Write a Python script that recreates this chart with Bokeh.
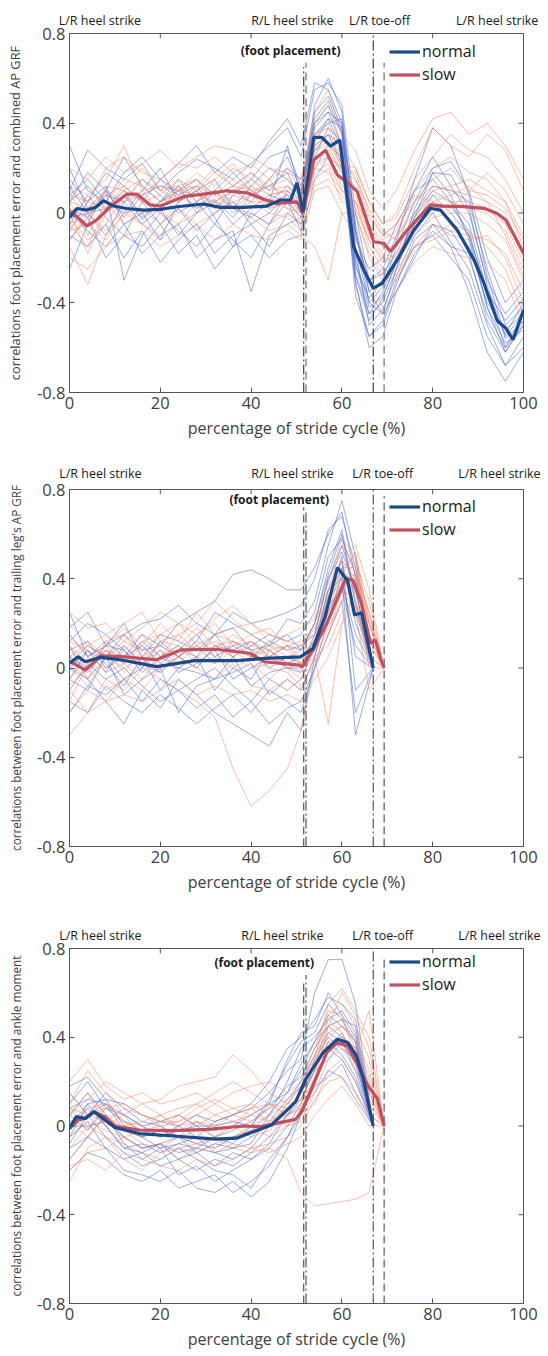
import json
from bokeh.plotting import figure
from bokeh.models import (Range1d, FixedTicker, LinearAxis, Label, Legend, LegendItem,
                          CustomJSTickFormatter)
from bokeh.layouts import column
from bokeh.embed import file_html
from bokeh.resources import INLINE

FONT = "Open Sans"

# ---------------- data ----------------
X_TICKS = [0, 20, 40, 60, 80, 100]
Y_TICKS = [-0.8, -0.4, 0, 0.4, 0.8]
EVENTS = [51.6, 52.1, 66.9, 69.3]
ANN_TEXT = ["L/R heel strike", "R/L heel strike", "L/R toe-off", "L/R heel strike"]
SERIES = ["normal", "slow"]

# panel 1: combined AP GRF  (individual traces)
X1 = [0, 4, 8, 12, 16, 20, 24, 28, 32, 36, 40, 44, 48, 51, 54, 57, 60, 63, 66, 69, 72, 76, 80, 84, 88, 92, 96, 100]
B1 = [
    [0.05, 0.12, 0.02, 0.08, -0.03, 0.05, 0.10, 0.02, 0.06, -0.02, 0.08, 0.12, 0.18, 0.05, 0.45, 0.52, 0.38, -0.22, -0.45, -0.35, -0.20, -0.05, 0.05, -0.05, -0.15, -0.40, -0.52, -0.45],
    [-0.25, -0.05, 0.10, -0.30, -0.10, 0.00, -0.08, -0.15, -0.05, -0.12, -0.20, -0.05, 0.10, 0.02, 0.35, 0.40, 0.42, -0.08, -0.35, -0.45, -0.35, -0.20, -0.05, -0.08, -0.20, -0.45, -0.60, -0.50],
    [0.10, 0.28, 0.20, 0.15, 0.22, 0.10, 0.18, 0.24, 0.20, 0.15, 0.22, 0.30, 0.38, 0.25, 0.55, 0.58, 0.48, 0.00, -0.30, -0.25, -0.10, 0.10, 0.25, 0.12, 0.00, -0.30, -0.45, -0.35],
    [0.00, -0.08, -0.15, -0.05, -0.18, -0.10, -0.05, -0.20, -0.12, -0.08, -0.35, -0.10, -0.05, -0.02, 0.20, 0.30, 0.25, -0.32, -0.55, -0.48, -0.30, -0.15, -0.10, -0.20, -0.30, -0.55, -0.68, -0.55],
    [0.15, 0.05, 0.18, 0.12, 0.05, 0.15, 0.08, 0.12, 0.02, 0.10, 0.05, 0.15, 0.25, 0.10, 0.40, 0.48, 0.35, -0.12, -0.25, -0.20, -0.05, 0.10, 0.15, 0.05, -0.05, -0.35, -0.48, -0.38],
    [-0.05, 0.08, -0.02, -0.10, 0.05, -0.05, 0.02, -0.08, 0.00, 0.05, -0.05, 0.00, 0.08, 0.00, 0.30, 0.35, 0.30, -0.27, -0.45, -0.40, -0.25, -0.05, 0.08, 0.00, -0.10, -0.42, -0.58, -0.52],
    [0.20, 0.02, 0.10, 0.25, 0.12, 0.05, 0.15, 0.05, 0.10, 0.18, 0.10, 0.05, 0.30, 0.08, 0.48, 0.60, 0.45, -0.07, -0.40, -0.33, -0.15, 0.05, 0.20, 0.23, 0.10, -0.20, -0.40, -0.30],
    [-0.10, -0.15, -0.05, -0.20, -0.08, -0.22, -0.12, -0.05, -0.18, -0.10, -0.05, -0.15, 0.00, -0.05, 0.25, 0.38, 0.32, -0.17, -0.50, -0.43, -0.28, -0.10, 0.00, -0.13, -0.25, -0.50, -0.68, -0.60],
    [0.08, 0.15, 0.05, 0.00, 0.10, 0.20, 0.05, 0.10, 0.15, 0.02, 0.12, 0.20, 0.15, 0.08, 0.38, 0.45, 0.40, -0.10, -0.30, -0.27, -0.18, 0.00, 0.12, 0.10, 0.05, -0.25, -0.50, -0.42],
    [0.02, -0.02, 0.08, 0.05, -0.05, 0.02, -0.10, 0.00, 0.05, -0.05, 0.02, 0.08, 0.05, -0.02, 0.32, 0.42, 0.28, -0.37, -0.55, -0.50, -0.32, -0.12, -0.05, -0.15, -0.18, -0.48, -0.62, -0.48],
    [0.12, 0.00, -0.10, 0.05, 0.15, 0.08, 0.00, 0.05, -0.05, 0.08, 0.15, 0.25, 0.28, 0.12, 0.42, 0.50, 0.36, -0.20, -0.42, -0.37, -0.22, -0.02, 0.18, 0.17, 0.02, -0.32, -0.56, -0.48],
    [-0.08, 0.05, 0.12, -0.05, 0.00, -0.12, 0.05, 0.10, -0.02, -0.15, 0.00, -0.05, 0.05, -0.08, 0.28, 0.35, 0.22, -0.24, -0.38, -0.30, -0.20, -0.08, 0.02, 0.03, -0.08, -0.38, -0.54, -0.40],
    [0.30, 0.10, 0.05, 0.18, 0.25, 0.15, 0.22, 0.30, 0.18, 0.25, 0.20, 0.32, 0.42, 0.30, 0.58, 0.55, 0.40, -0.05, -0.35, -0.30, -0.12, 0.15, 0.38, 0.30, 0.08, -0.28, -0.55, -0.45],
    [-0.12, -0.02, -0.20, -0.10, -0.15, -0.05, -0.18, -0.10, -0.25, -0.15, -0.10, -0.20, -0.12, -0.10, 0.15, 0.25, 0.20, -0.30, -0.60, -0.55, -0.35, -0.18, -0.08, -0.15, -0.35, -0.62, -0.75, -0.62],
    [0.05, 0.18, 0.10, -0.02, 0.08, 0.12, 0.10, 0.15, 0.08, 0.12, 0.18, 0.10, 0.20, 0.15, 0.35, 0.42, 0.38, -0.15, -0.40, -0.45, -0.25, 0.02, 0.18, 0.08, -0.12, -0.42, -0.62, -0.50],
    [-0.02, 0.00, 0.02, 0.10, -0.02, 0.05, 0.12, 0.00, 0.10, 0.02, -0.02, 0.05, 0.12, 0.05, 0.40, 0.45, 0.30, -0.28, -0.48, -0.38, -0.22, -0.02, 0.10, 0.05, -0.10, -0.35, -0.60, -0.45],
]
R1 = [
    [0.05, -0.10, 0.05, 0.15, 0.12, 0.05, 0.10, 0.18, 0.12, 0.20, 0.15, 0.08, 0.10, 0.02, 0.30, 0.35, 0.20, 0.18, 0.00, -0.10, -0.05, 0.10, 0.20, 0.25, 0.18, 0.15, 0.05, -0.10],
    [-0.15, -0.32, -0.10, 0.00, -0.05, -0.10, 0.02, -0.05, 0.00, 0.05, -0.02, -0.08, -0.05, -0.10, -0.15, -0.30, 0.00, 0.00, -0.20, -0.30, -0.25, -0.15, -0.05, -0.10, -0.12, -0.10, -0.20, -0.40],
    [0.10, 0.05, 0.20, 0.25, 0.18, 0.15, 0.22, 0.20, 0.25, 0.18, 0.22, 0.15, 0.20, 0.10, 0.40, 0.48, 0.30, 0.20, 0.05, -0.05, 0.00, 0.20, 0.38, 0.30, 0.25, 0.35, 0.28, 0.10],
    [-0.05, 0.00, -0.08, 0.02, -0.05, -0.12, -0.05, 0.00, 0.05, 0.02, 0.00, -0.05, 0.00, -0.05, 0.18, 0.22, 0.10, 0.05, -0.15, -0.25, -0.28, -0.15, -0.10, -0.05, -0.08, -0.15, -0.25, -0.45],
    [0.02, -0.05, 0.12, 0.10, 0.05, 0.08, 0.15, 0.10, 0.18, 0.12, 0.10, 0.12, 0.08, 0.05, 0.28, 0.30, 0.18, 0.12, -0.05, -0.15, -0.10, 0.00, 0.10, 0.12, 0.15, 0.10, 0.05, -0.15],
    [0.00, -0.18, 0.00, 0.05, 0.10, 0.00, -0.05, 0.05, 0.10, 0.05, 0.08, 0.02, 0.05, -0.02, 0.22, 0.25, 0.12, 0.08, -0.10, -0.18, -0.20, -0.05, 0.00, 0.05, 0.02, 0.00, -0.08, -0.25],
    [0.12, 0.08, 0.15, 0.30, 0.10, 0.12, 0.08, 0.15, 0.05, 0.10, 0.15, 0.10, 0.12, 0.08, 0.32, 0.40, 0.25, 0.15, 0.02, -0.08, -0.12, 0.05, 0.15, 0.20, 0.10, 0.18, 0.10, -0.05],
    [-0.08, -0.05, -0.12, 0.00, 0.02, -0.05, 0.05, 0.10, 0.02, 0.08, 0.05, 0.00, -0.02, -0.08, 0.12, 0.15, 0.08, 0.00, -0.18, -0.28, -0.30, -0.15, -0.12, -0.08, -0.10, -0.12, -0.18, -0.35],
    [0.05, 0.02, 0.08, 0.12, 0.20, 0.10, 0.12, 0.05, 0.15, 0.22, 0.12, 0.08, 0.10, 0.05, 0.25, 0.28, 0.18, 0.15, -0.02, -0.10, -0.05, 0.05, 0.12, 0.10, 0.08, 0.05, 0.00, -0.20],
    [-0.12, 0.00, 0.05, -0.05, 0.00, 0.05, 0.08, 0.02, 0.10, 0.00, 0.05, 0.05, 0.02, 0.00, 0.20, 0.18, 0.10, 0.05, -0.12, -0.20, -0.22, -0.10, -0.02, 0.00, 0.00, -0.05, -0.12, -0.30],
    [0.08, -0.02, 0.10, 0.05, 0.08, 0.15, 0.10, 0.12, 0.08, 0.15, 0.10, 0.05, 0.08, 0.02, 0.28, 0.32, 0.20, 0.10, -0.08, -0.15, -0.15, -0.02, 0.08, 0.05, 0.05, 0.02, -0.05, -0.22],
    [-0.02, -0.12, -0.05, 0.08, 0.00, 0.02, 0.10, 0.08, 0.05, 0.10, 0.12, 0.02, 0.05, 0.00, 0.15, 0.20, 0.05, 0.05, -0.05, -0.12, -0.08, 0.08, 0.05, 0.02, 0.10, 0.08, 0.02, -0.12],
    [0.20, 0.15, 0.25, 0.18, 0.22, 0.28, 0.20, 0.25, 0.30, 0.28, 0.25, 0.20, 0.18, 0.15, 0.45, 0.55, 0.35, 0.28, 0.10, 0.02, 0.10, 0.28, 0.42, 0.45, 0.35, 0.40, 0.30, 0.15],
    [-0.20, -0.25, -0.15, -0.10, -0.08, -0.15, -0.10, -0.05, -0.12, -0.05, -0.10, -0.12, -0.08, -0.12, 0.10, 0.12, 0.00, -0.10, -0.30, -0.42, -0.35, -0.22, -0.15, -0.18, -0.20, -0.22, -0.30, -0.50],
    [0.08, 0.05, 0.02, 0.10, 0.15, 0.10, 0.05, 0.12, 0.20, 0.12, 0.18, 0.12, 0.15, 0.10, 0.35, 0.38, 0.22, 0.20, 0.05, -0.05, -0.02, 0.15, 0.25, 0.35, 0.28, 0.25, 0.15, 0.00],
    [-0.05, -0.15, 0.02, 0.12, 0.05, 0.00, 0.12, 0.15, 0.08, 0.02, 0.08, 0.15, 0.02, -0.05, 0.20, 0.25, 0.15, 0.02, -0.12, -0.22, -0.18, -0.08, 0.05, 0.08, 0.12, 0.05, -0.10, -0.28],
]
NX1 = [0, 1.6, 3.8, 5.7, 7.5, 9.7, 12.6, 16.3, 20, 23.7, 29.5, 33.2, 38.4, 43.5, 46.5, 48.7, 50.1, 51.4, 53.8, 55.6, 57.5, 59.5, 62.6, 64.8, 66.9, 68.9, 72.2, 75.9, 79.5, 81.7, 85.4, 89.1, 91.3, 94.2, 96.1, 97.7, 100]
NY1 = [-0.02, 0.02, 0.013, 0.025, 0.055, 0.031, 0.02, 0.013, 0.016, 0.028, 0.04, 0.025, 0.025, 0.031, 0.058, 0.058, 0.135, 0.006, 0.337, 0.337, 0.298, 0.325, -0.15, -0.254, -0.335, -0.313, -0.209, -0.076, 0.021, 0.013, -0.076, -0.209, -0.313, -0.48, -0.513, -0.565, -0.432]
SX1 = [0, 1.6, 3.8, 6, 9, 12.6, 14.9, 17.8, 20, 25.1, 29.5, 34.7, 39.1, 42.8, 45.7, 50.1, 51.4, 53.8, 56.4, 59, 61.5, 63.4, 65.2, 67, 69.2, 70.7, 74.4, 79.5, 82.5, 86.9, 91.3, 94.2, 96.1, 97.7, 100]
SY1 = [0.006, -0.016, -0.058, -0.031, 0.028, 0.084, 0.084, 0.036, 0.031, 0.073, 0.084, 0.099, 0.09, 0.061, 0.043, 0.05, -0.002, 0.236, 0.28, 0.169, 0.132, 0.095, -0.016, -0.128, -0.135, -0.172, -0.076, 0.036, 0.031, 0.028, 0.021, -0.002, -0.031, -0.09, -0.18]

# panel 2: trailing leg's AP GRF
XB2 = [0, 4, 8, 12, 16, 20, 24, 28, 32, 36, 40, 44, 48, 51, 54, 57, 60, 63, 66.9]
XR2 = [0, 4, 8, 12, 16, 20, 24, 28, 32, 36, 40, 44, 48, 51, 54, 57, 60, 63, 66, 69.3]
B2 = [
    [0.02, 0.10, 0.05, 0.15, 0.08, 0.10, 0.20, 0.25, 0.30, 0.42, 0.44, 0.40, 0.35, 0.35, 0.45, 0.60, 0.70, 0.40, 0.0],
    [0.00, -0.05, -0.15, -0.25, -0.10, -0.18, -0.05, -0.12, -0.20, -0.25, -0.30, -0.35, -0.20, -0.28, 0.05, 0.30, 0.50, -0.10, 0.0],
    [0.25, 0.05, 0.12, 0.05, 0.15, 0.10, 0.05, 0.12, 0.25, 0.20, 0.15, 0.10, 0.22, 0.20, 0.30, 0.55, 0.75, 0.50, 0.0],
    [-0.10, 0.02, -0.05, 0.00, -0.08, -0.15, -0.10, -0.05, 0.00, -0.08, -0.15, -0.05, -0.10, -0.05, 0.10, 0.35, 0.40, -0.30, 0.0],
    [0.08, 0.12, 0.00, 0.05, 0.10, 0.02, 0.08, 0.15, 0.05, 0.10, 0.05, 0.12, 0.08, 0.10, 0.15, 0.40, 0.55, 0.35, 0.0],
    [-0.05, -0.10, 0.05, -0.12, -0.05, 0.00, -0.20, -0.08, -0.05, -0.02, 0.02, -0.12, -0.05, -0.10, 0.05, 0.25, 0.38, 0.15, 0.0],
    [0.12, 0.20, 0.15, 0.08, 0.00, 0.12, 0.05, 0.00, 0.10, 0.08, 0.12, 0.05, 0.10, 0.08, 0.20, 0.45, 0.62, 0.30, 0.0],
    [0.05, -0.02, 0.08, 0.02, 0.12, 0.05, 0.00, 0.05, -0.10, 0.00, -0.05, 0.08, 0.02, 0.05, 0.12, 0.35, 0.48, 0.20, 0.0],
    [-0.20, -0.08, -0.12, -0.05, -0.15, -0.05, -0.10, -0.18, -0.12, -0.22, -0.15, -0.25, -0.18, -0.15, 0.00, 0.22, 0.42, 0.05, 0.0],
    [0.15, 0.05, 0.10, 0.20, 0.05, 0.15, 0.12, 0.08, 0.15, 0.05, 0.10, 0.15, 0.12, 0.15, 0.25, 0.50, 0.58, 0.42, 0.0],
    [0.00, 0.08, -0.02, 0.10, 0.02, -0.02, 0.05, 0.10, 0.02, 0.12, 0.08, 0.00, 0.05, 0.02, 0.10, 0.32, 0.45, 0.25, 0.0],
    [0.10, -0.05, 0.05, -0.05, 0.00, 0.08, -0.02, 0.02, 0.08, -0.05, 0.00, 0.05, 0.00, -0.02, 0.15, 0.40, 0.52, 0.35, 0.0],
    [0.18, 0.25, 0.10, 0.15, 0.20, 0.22, 0.28, 0.20, 0.15, 0.25, 0.20, 0.22, 0.25, 0.28, 0.40, 0.62, 0.68, 0.45, 0.0],
    [-0.15, -0.20, -0.08, -0.15, -0.20, -0.12, -0.18, -0.25, -0.18, -0.12, -0.20, -0.10, -0.15, -0.20, 0.00, 0.15, 0.30, -0.20, 0.0],
    [0.05, 0.00, 0.10, 0.08, -0.02, 0.05, 0.10, 0.05, 0.15, 0.18, 0.08, 0.10, 0.15, 0.08, 0.20, 0.42, 0.60, 0.28, 0.0],
    [-0.05, 0.08, 0.02, -0.08, 0.05, -0.10, 0.00, -0.02, -0.05, 0.05, -0.08, -0.02, 0.00, 0.00, 0.08, 0.28, 0.35, 0.10, 0.0],
]
R2 = [
    [0.05, 0.10, 0.15, 0.20, 0.25, 0.12, 0.15, 0.20, 0.30, 0.22, 0.15, 0.18, 0.10, 0.12, 0.15, 0.30, 0.50, 0.55, 0.35, 0.0],
    [-0.30, -0.20, -0.05, -0.10, 0.00, -0.05, -0.10, -0.15, -0.22, -0.45, -0.62, -0.55, -0.45, -0.28, 0.00, 0.15, 0.30, 0.40, 0.20, 0.0],
    [0.10, 0.02, 0.08, 0.05, 0.12, 0.15, 0.20, 0.10, 0.15, 0.12, 0.08, 0.05, 0.10, 0.02, 0.10, 0.25, 0.45, 0.50, 0.10, 0.0],
    [-0.10, -0.20, -0.15, -0.05, -0.10, 0.00, 0.05, 0.00, -0.05, 0.02, -0.08, -0.10, -0.05, -0.10, 0.05, 0.10, 0.25, 0.30, 0.05, 0.0],
    [0.15, 0.05, 0.10, 0.18, 0.10, 0.20, 0.12, 0.25, 0.15, 0.18, 0.20, 0.15, 0.12, 0.10, 0.20, 0.35, 0.55, 0.45, 0.25, 0.0],
    [0.00, -0.08, 0.05, 0.00, 0.05, -0.02, 0.08, 0.05, 0.10, 0.05, 0.00, 0.02, 0.05, 0.00, 0.05, -0.25, 0.20, 0.35, 0.00, 0.0],
    [0.20, 0.10, 0.05, 0.12, 0.08, 0.15, 0.05, 0.12, 0.08, 0.15, 0.10, 0.08, 0.02, 0.05, 0.12, 0.30, 0.40, 0.42, 0.15, 0.0],
    [-0.05, 0.05, 0.00, 0.08, 0.15, 0.05, 0.10, 0.02, 0.05, 0.10, 0.12, 0.05, 0.00, -0.05, 0.08, 0.22, 0.38, 0.48, 0.30, 0.0],
    [0.08, 0.00, -0.10, -0.05, 0.02, 0.08, 0.02, 0.10, 0.05, 0.00, 0.05, 0.10, 0.08, 0.02, 0.15, 0.28, 0.35, 0.25, -0.10, 0.0],
    [-0.15, 0.02, 0.10, 0.02, -0.05, 0.05, 0.15, 0.08, 0.12, 0.08, 0.05, 0.00, -0.02, -0.08, 0.02, 0.20, 0.42, 0.52, 0.20, 0.0],
    [0.02, -0.05, 0.12, 0.15, 0.05, 0.10, 0.05, 0.15, 0.20, 0.10, 0.15, 0.10, 0.05, 0.08, 0.18, 0.32, 0.48, 0.40, 0.15, 0.0],
    [0.12, 0.08, -0.02, 0.02, 0.10, 0.02, 0.00, 0.05, 0.02, 0.08, 0.02, -0.05, 0.02, -0.02, 0.10, 0.18, 0.30, 0.38, 0.12, 0.0],
    [0.25, 0.18, 0.20, 0.12, 0.18, 0.25, 0.20, 0.15, 0.22, 0.28, 0.20, 0.12, 0.15, 0.18, 0.22, 0.38, 0.58, 0.50, 0.22, 0.0],
    [-0.20, -0.10, -0.15, -0.12, -0.15, -0.10, -0.05, -0.12, -0.08, -0.12, -0.10, -0.15, -0.12, -0.15, -0.05, 0.05, 0.20, 0.28, 0.05, 0.0],
    [0.05, 0.12, 0.05, 0.10, 0.02, 0.12, 0.10, 0.18, 0.10, 0.05, 0.12, 0.08, 0.10, 0.05, 0.12, 0.28, 0.45, 0.45, 0.20, 0.0],
    [-0.08, 0.00, 0.08, -0.02, 0.08, 0.00, 0.05, 0.00, 0.10, 0.12, 0.05, 0.08, 0.00, 0.02, 0.08, 0.15, 0.35, 0.42, 0.25, 0.0],
]
NX2 = [0, 1.9, 3.5, 6.9, 11.5, 19.2, 27.6, 36.8, 42.9, 50.9, 53.6, 56.3, 59, 61.3, 62.8, 64.3, 66.9]
NY2 = [0.021, 0.05, 0.028, 0.048, 0.036, 0.006, 0.033, 0.033, 0.043, 0.05, 0.088, 0.23, 0.45, 0.39, 0.237, 0.248, 0.0]
SX2 = [0, 3.5, 6.9, 11.5, 19.2, 24.5, 32.2, 39.8, 42.9, 50.6, 51.3, 53.6, 56.7, 60.9, 62.4, 64.3, 66.3, 67.4, 68.6, 69.3]
SY2 = [0.03, -0.009, 0.054, 0.051, 0.037, 0.081, 0.084, 0.066, 0.028, 0.013, 0.006, 0.081, 0.2, 0.402, 0.394, 0.29, 0.11, 0.125, 0.036, 0.0]

# panel 3: ankle moment
XB3 = [0, 4, 8, 12, 16, 20, 24, 28, 32, 36, 40, 44, 48, 51, 54, 57, 60, 63, 66.9]
XR3 = [0, 4, 8, 12, 16, 20, 24, 28, 32, 36, 40, 44, 48, 51, 54, 57, 60, 63, 66, 69.3]
B3 = [
    [0.05, 0.15, 0.05, -0.05, -0.10, -0.08, -0.12, -0.10, -0.05, -0.08, 0.00, 0.10, 0.30, 0.42, 0.45, 0.60, 0.50, 0.40, 0.0],
    [-0.15, -0.05, -0.10, -0.20, -0.22, -0.25, -0.20, -0.28, -0.30, -0.25, -0.32, -0.25, -0.10, 0.05, 0.20, 0.35, 0.30, 0.20, 0.0],
    [0.10, 0.20, 0.08, 0.05, 0.00, -0.05, 0.00, -0.05, 0.02, 0.05, 0.08, 0.15, 0.25, 0.30, 0.60, 0.75, 0.75, 0.55, 0.0],
    [-0.05, 0.02, -0.10, -0.15, -0.12, -0.18, -0.15, -0.20, -0.15, -0.18, -0.12, -0.05, 0.05, 0.15, 0.25, 0.30, 0.38, 0.25, 0.0],
    [0.00, 0.10, 0.12, 0.00, -0.05, -0.02, -0.05, -0.08, -0.10, -0.05, -0.02, 0.05, 0.20, 0.35, 0.40, 0.48, 0.52, 0.42, 0.0],
    [-0.10, -0.05, 0.05, -0.08, -0.15, -0.10, -0.22, -0.18, -0.25, -0.20, -0.15, -0.10, 0.00, 0.10, 0.30, 0.40, 0.35, 0.30, 0.0],
    [0.15, 0.05, 0.15, 0.08, 0.02, 0.00, -0.05, 0.02, -0.02, 0.00, 0.05, 0.10, 0.15, 0.25, 0.38, 0.50, 0.45, 0.38, 0.0],
    [-0.02, 0.08, 0.00, -0.10, -0.08, -0.12, -0.08, -0.10, -0.12, -0.15, -0.10, 0.00, 0.10, 0.18, 0.28, 0.35, 0.42, 0.30, 0.0],
    [0.05, -0.02, 0.08, 0.02, -0.02, -0.05, -0.02, 0.00, -0.05, -0.02, 0.02, 0.08, 0.18, 0.22, 0.35, 0.45, 0.40, 0.35, 0.0],
    [-0.08, 0.05, -0.05, -0.12, -0.18, -0.15, -0.10, -0.15, -0.20, -0.22, -0.28, -0.15, -0.05, 0.05, 0.18, 0.22, 0.28, 0.15, 0.0],
    [0.08, 0.12, 0.10, 0.05, 0.00, 0.02, 0.05, 0.00, 0.00, 0.02, 0.00, 0.12, 0.28, 0.38, 0.42, 0.55, 0.48, 0.45, 0.0],
    [0.00, 0.00, 0.02, -0.05, -0.10, -0.08, -0.05, -0.12, -0.08, -0.10, -0.05, 0.02, 0.12, 0.20, 0.32, 0.42, 0.38, 0.28, 0.0],
    [0.18, 0.22, 0.12, 0.10, 0.05, 0.02, 0.00, 0.05, 0.02, 0.05, 0.10, 0.20, 0.35, 0.40, 0.48, 0.58, 0.55, 0.48, 0.0],
    [-0.20, -0.12, -0.15, -0.22, -0.25, -0.20, -0.28, -0.25, -0.22, -0.30, -0.25, -0.18, -0.05, 0.08, 0.15, 0.25, 0.22, 0.12, 0.0],
    [0.02, 0.05, 0.10, -0.02, -0.05, -0.10, -0.08, -0.05, -0.12, -0.10, -0.08, 0.05, 0.15, 0.28, 0.38, 0.45, 0.48, 0.38, 0.0],
    [-0.05, 0.10, 0.00, -0.10, -0.12, -0.08, -0.15, -0.12, -0.18, -0.12, -0.15, -0.08, 0.05, 0.12, 0.25, 0.38, 0.32, 0.22, 0.0],
]
R3 = [
    [0.10, 0.25, 0.15, 0.05, 0.10, 0.05, 0.08, 0.10, 0.15, 0.20, 0.15, 0.10, 0.05, 0.08, 0.20, 0.45, 0.60, 0.50, 0.35, 0.0],
    [-0.25, -0.10, -0.05, -0.15, -0.20, -0.12, -0.10, -0.08, -0.05, -0.10, -0.12, -0.10, -0.15, -0.30, -0.36, -0.35, -0.34, -0.33, -0.30, 0.0],
    [0.05, 0.12, 0.20, 0.15, 0.10, 0.12, 0.18, 0.20, 0.22, 0.32, 0.25, 0.15, 0.10, 0.12, 0.25, 0.50, 0.55, 0.45, 0.30, 0.0],
    [-0.10, 0.00, -0.05, -0.08, -0.12, -0.15, -0.10, -0.12, -0.08, -0.05, -0.02, 0.00, 0.02, 0.05, 0.10, 0.25, 0.30, 0.20, 0.05, 0.0],
    [0.00, 0.08, 0.10, 0.02, 0.00, -0.05, 0.00, 0.05, 0.00, 0.02, 0.05, 0.02, 0.08, 0.15, 0.30, 0.40, 0.45, 0.40, 0.25, 0.0],
    [-0.15, -0.05, 0.05, -0.02, -0.08, -0.10, -0.05, -0.02, -0.10, -0.05, 0.00, -0.05, 0.00, 0.02, 0.15, 0.30, 0.35, 0.25, 0.15, 0.0],
    [0.15, 0.05, 0.08, 0.10, 0.05, 0.02, 0.05, 0.00, 0.05, 0.08, 0.10, 0.05, 0.10, 0.20, 0.35, 0.52, 0.50, 0.30, 0.10, 0.0],
    [-0.05, 0.02, -0.02, -0.05, -0.02, 0.00, -0.05, -0.08, -0.05, 0.00, -0.05, -0.02, 0.05, 0.10, 0.22, 0.35, 0.40, 0.35, 0.52, 0.0],
    [0.05, 0.15, 0.00, 0.05, -0.05, 0.02, 0.02, 0.05, 0.10, 0.05, 0.08, 0.10, 0.05, 0.10, 0.28, 0.45, 0.48, 0.35, 0.20, 0.0],
    [-0.20, -0.12, -0.10, -0.05, -0.10, -0.08, -0.15, -0.10, -0.12, -0.08, -0.10, -0.08, -0.05, 0.00, 0.12, 0.20, 0.22, 0.15, 0.05, 0.0],
    [0.08, 0.05, 0.12, 0.00, 0.02, 0.05, 0.00, 0.02, 0.00, 0.05, 0.02, 0.08, 0.12, 0.18, 0.32, 0.48, 0.42, 0.28, 0.18, 0.0],
    [0.02, -0.05, 0.05, -0.02, -0.05, -0.02, 0.05, 0.10, 0.05, 0.02, 0.00, 0.05, 0.00, 0.05, 0.18, 0.38, 0.40, 0.32, 0.12, 0.0],
    [0.20, 0.30, 0.18, 0.12, 0.15, 0.10, 0.12, 0.15, 0.10, 0.15, 0.18, 0.20, 0.15, 0.20, 0.30, 0.55, 0.62, 0.52, 0.40, 0.0],
    [-0.18, -0.15, -0.20, -0.12, -0.15, -0.18, -0.20, -0.15, -0.18, -0.15, -0.10, -0.12, -0.08, -0.05, 0.05, 0.12, 0.18, 0.10, 0.00, 0.0],
    [0.00, 0.05, 0.02, 0.08, 0.05, 0.00, 0.02, 0.08, 0.12, 0.08, 0.05, 0.10, 0.08, 0.12, 0.25, 0.42, 0.45, 0.38, 0.22, 0.0],
    [0.08, -0.02, 0.10, 0.02, -0.02, 0.05, -0.02, 0.02, -0.05, 0.00, 0.08, 0.02, 0.05, 0.08, 0.20, 0.35, 0.38, 0.28, 0.15, 0.0],
]
NX3 = [0, 1.5, 3.5, 5.4, 10, 15.3, 23, 32.2, 36.8, 39.9, 44.4, 49.8, 52.1, 55.9, 59, 61.3, 63.2, 64.7, 66.9]
NY3 = [-0.01, 0.042, 0.034, 0.064, -0.007, -0.034, -0.045, -0.059, -0.055, -0.03, 0.003, 0.109, 0.213, 0.332, 0.391, 0.376, 0.317, 0.213, 0.0]
SX3 = [0, 1.9, 3.5, 5.4, 7.7, 10, 15.3, 23, 30.6, 38.3, 42.1, 49.8, 51.3, 53.6, 56.7, 59, 61.3, 63.6, 65.9, 67.8, 69.3]
SY3 = [-0.01, 0.027, 0.034, 0.064, 0.042, 0.0, -0.018, -0.021, -0.015, 0.0, -0.003, 0.03, 0.071, 0.183, 0.332, 0.375, 0.36, 0.272, 0.176, 0.124, 0.0]

YLABELS = [
    "correlations foot placement error and combined AP GRF",
    "correlations between foot placement error and trailing leg's AP GRF",
    "correlations between foot placement error and ankle moment",
]

# ---------------- styling ----------------
BLUE_THIN = "#3d5cc7"
RED_THIN = "#f5815c"
BLUE_MEAN = "#1b4a8a"
RED_MEAN = "#c2505f"
AXIS_C = "#555555"
TXT_C = "#404040"
TICK_DX = 1.1      # 5 px in x data units
TICK_DY = 0.022    # 5 px in y data units


def make_panel(xb, bl, xr, rl, nx, ny, sx, sy, ylabel, ylabel_size,
               ann_x, ann_standoff, fp_x, fp_y, ev_tops, ev_styles, legend_ys,
               height, border_top, border_bottom):
    p = figure(width=548, height=height, x_range=Range1d(0, 100), y_range=Range1d(-0.8, 0.8),
               output_backend="svg", toolbar_location=None,
               min_border_left=69, min_border_right=25,
               min_border_top=border_top, min_border_bottom=border_bottom,
               background_fill_color="white", border_fill_color="white")
    p.outline_line_color = AXIS_C
    p.outline_line_width = 1
    p.xgrid.visible = False
    p.ygrid.visible = False

    # individual traces
    p.multi_line(xs=[xb] * len(bl), ys=bl, line_color=BLUE_THIN, line_width=0.6, line_alpha=0.85)
    p.multi_line(xs=[xr] * len(rl), ys=rl, line_color=RED_THIN, line_width=0.6, line_alpha=0.85)

    # event lines
    for ex, top, (dash, col, lw) in zip(EVENTS, ev_tops, ev_styles):
        p.segment(x0=[ex], y0=[-0.8], x1=[ex], y1=[top], line_color=col, line_dash=dash, line_width=lw)

    # mean curves
    rs = p.line(sx, sy, line_color=RED_MEAN, line_width=3.2)
    rn = p.line(nx, ny, line_color=BLUE_MEAN, line_width=3.2)

    # mirrored inward ticks on top and right edges
    p.segment(x0=X_TICKS, y0=[0.8] * len(X_TICKS), x1=X_TICKS, y1=[0.8 - TICK_DY] * len(X_TICKS),
              line_color=AXIS_C, line_width=1)
    p.segment(x0=[100] * len(Y_TICKS), y0=Y_TICKS, x1=[100 - TICK_DX] * len(Y_TICKS), y1=Y_TICKS,
              line_color=AXIS_C, line_width=1)

    # axes
    p.xaxis.ticker = FixedTicker(ticks=X_TICKS)
    p.yaxis.ticker = FixedTicker(ticks=Y_TICKS)
    p.yaxis.formatter = CustomJSTickFormatter(code="return Math.abs(tick) < 1e-9 ? '0' : tick.toFixed(1);")
    for ax in [p.xaxis[0], p.yaxis[0]]:
        ax.axis_line_color = AXIS_C
        ax.major_tick_line_color = AXIS_C
        ax.major_tick_in = 5
        ax.major_tick_out = 0
        ax.minor_tick_line_color = None
        ax.major_label_text_font = FONT
        ax.major_label_text_font_size = "16.5px"
        ax.major_label_text_color = TXT_C
        ax.major_label_standoff = 4
        ax.axis_label_text_font = FONT
        ax.axis_label_text_font_style = "normal"
        ax.axis_label_text_color = TXT_C
    p.xaxis.axis_label = "percentage of stride cycle (%)"
    p.xaxis.axis_label_text_font_size = "16px"
    p.xaxis.axis_label_standoff = 5
    p.yaxis.axis_label = ylabel
    p.yaxis.axis_label_text_font_size = ylabel_size
    p.yaxis.axis_label_standoff = 10

    # gait-event names above the frame, as labels of a top axis
    ann_code = ("const xs = %s; const ts = %s;"
                "for (let i = 0; i < xs.length; i++) { if (Math.abs(xs[i] - tick) < 1e-6) return ts[i]; }"
                "return '';") % (json.dumps(ann_x), json.dumps(ANN_TEXT))
    top_ax = LinearAxis(ticker=FixedTicker(ticks=ann_x), formatter=CustomJSTickFormatter(code=ann_code),
                        axis_line_color=None, major_tick_line_color=None, minor_tick_line_color=None,
                        major_tick_in=0, major_tick_out=0,
                        major_label_standoff=ann_standoff, major_label_text_font=FONT,
                        major_label_text_font_size="12.5px", major_label_text_color="#1a1a1a")
    p.add_layout(top_ax, "above")

    p.add_layout(Label(x=fp_x, y=fp_y, text="(foot placement)", text_align="center",
                       text_baseline="middle", text_font=FONT, text_font_size="12px",
                       text_font_style="bold", text_color="#1a1a1a"))

    # legend: one single-row legend per series so the row pitch can be set
    for name, rend, ly in zip(SERIES, [rn, rs], legend_ys):
        lg = Legend(items=[LegendItem(label=name, renderers=[rend])],
                    location=(320, ly), padding=0, margin=0, spacing=0,
                    glyph_width=31, glyph_height=19, label_height=19, label_standoff=2,
                    label_text_font=FONT, label_text_font_size="16px",
                    label_text_color="#1a1a1a", border_line_color=None,
                    background_fill_alpha=0)
        p.add_layout(lg)
    return p


STY1 = [("10 3 2 3", "#1a1a1a", 1.0), ("8 5", "#8c8c8c", 1.5), ("10 3 2 3", "#1a1a1a", 1.0), ("8 5", "#8c8c8c", 1.5)]
STY2 = [("8 4", "#333333", 1.0), ("10 3 2 3", "#333333", 1.0), ("10 3 2 3", "#333333", 1.0), ("8 4", "#333333", 1.0)]

p1 = make_panel(X1, B1, X1, R1, NX1, NY1, SX1, SY1, YLABELS[0], "12.8px",
                [6.7, 49.1, 68.3, 94.2], 5, 48.7, 0.726,
                [0.65, 0.67, 0.8, 0.67], STY1, [330, 307], 459, 33, 67)
p2 = make_panel(XB2, B2, XR2, R2, NX2, NY2, SX2, SY2, YLABELS[1], "11.7px",
                [6.8, 49.1, 69.0, 94.7], 8, 46.2, 0.756,
                [0.72, 0.71, 0.8, 0.77], STY2, [329, 306], 461, 30, 74)
p3 = make_panel(XB3, B3, XR3, R3, NX3, NY3, SX3, SY3, YLABELS[2], "11.8px",
                [6.8, 46.9, 69.0, 94.7], 5, 42.9, 0.735,
                [0.645, 0.68, 0.8, 0.75], STY2, [331, 308], 432, 28, 45)

layout = column(p1, p2, p3, spacing=0)
open("out.html", "w").write(file_html(layout, INLINE))
